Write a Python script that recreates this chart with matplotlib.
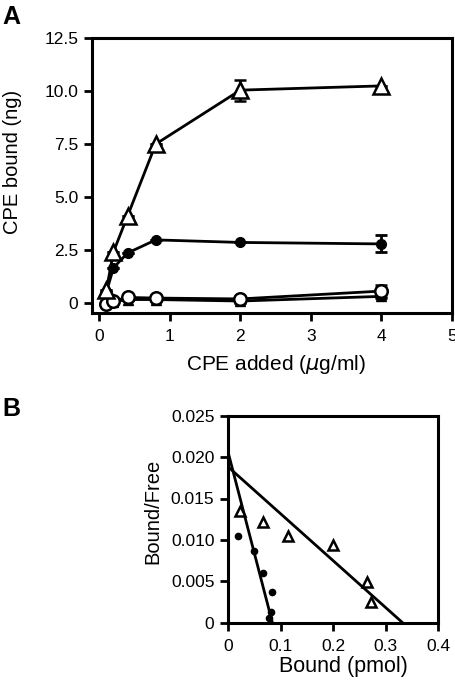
import numpy as np
import matplotlib
matplotlib.use('Agg')
import matplotlib.pyplot as plt

plt.rcParams['font.family'] = ['Liberation Sans', 'DejaVu Sans']

# Panel A: CPE binding curves
cpe_added = [0.1, 0.2, 0.4, 0.8, 2.0, 4.0]
open_tri = [0.6, 2.4, 4.1, 7.5, 10.05, 10.25]
open_tri_err = [0, 0, 0, 0, 0.5, 0]
filled_circ = [0.5, 1.65, 2.35, 2.97, 2.85, 2.78]
filled_circ_err = [0, 0, 0, 0, 0, 0.4]
open_circ = [-0.05, 0.08, 0.25, 0.22, 0.18, 0.55]
open_circ_err = [0, 0, 0, 0, 0, 0.3]
filled_tri = [0.0, 0.05, 0.15, 0.15, 0.08, 0.3]
filled_tri_err = [0, 0, 0, 0, 0.1, 0.1]

# Panel B: Scatchard plot
tri_bound = [0.022, 0.066, 0.113, 0.2, 0.264, 0.271]
tri_bf = [0.0135, 0.0122, 0.0105, 0.0094, 0.0049, 0.0025]
circ_bound = [0.018, 0.049, 0.067, 0.083, 0.0806, 0.078]
circ_bf = [0.0105, 0.0086, 0.006, 0.0037, 0.0013, 0.0006]
# fitted lines: (y-intercept, x-intercept)
tri_fit = (0.0188, 0.332)
circ_fit = (0.0205, 0.084)

fig = plt.figure(figsize=(4.56, 6.82), dpi=100)

# ---- Panel A ----
ax = fig.add_axes([92.3/456, 1-313.3/682, (451.8-92.3)/456, (313.3-38.3)/682])
lw = 2.0
kw = dict(color='black', lw=lw, capsize=4.5, elinewidth=lw, capthick=lw, clip_on=False)
ax.errorbar(cpe_added, filled_tri, yerr=filled_tri_err, marker='^', ms=7, mfc='black', mec='black', zorder=3, **kw)
ax.errorbar(cpe_added, open_circ, yerr=open_circ_err, marker='o', ms=9, mfc='white', mec='black', mew=1.8, zorder=4, **kw)
ax.errorbar(cpe_added, filled_circ, yerr=filled_circ_err, marker='o', ms=7, mfc='black', mec='black', zorder=5, **kw)
ax.errorbar(cpe_added, open_tri, yerr=open_tri_err, marker='^', ms=11, mfc='white', mec='black', mew=1.8, zorder=6, **kw)

ax.set_xlim(-0.1, 5)
ax.set_ylim(-0.5, 12.5)
ax.set_xticks([0, 1, 2, 3, 4, 5])
ax.set_xticklabels(['0', '1', '2', '3', '4', '5'])
ax.set_yticks([0, 2.5, 5.0, 7.5, 10.0, 12.5])
ax.set_yticklabels(['0', '2.5', '5.0', '7.5', '10.0', '12.5'])
ax.set_xlabel('CPE added ($\\mu$g/ml)', fontsize=15)
ax.set_ylabel('CPE bound (ng)', fontsize=14.5)
ax.xaxis.set_label_coords(0.51, -0.145)
ax.yaxis.set_label_coords(-0.195, 0.552)

# ---- Panel B ----
bx = fig.add_axes([228.3/456, 1-622.7/682, (438.3-228.3)/456, (622.7-415.7)/682])
bx.plot([0, tri_fit[1]], [tri_fit[0], 0], color='black', lw=2.0)
bx.plot([0, circ_fit[1]], [circ_fit[0], 0], color='black', lw=2.0)
bx.plot(tri_bound, tri_bf, ls='none', marker='^', ms=7.5, mfc='white', mec='black', mew=1.8)
bx.plot(circ_bound, circ_bf, ls='none', marker='o', ms=4.5, mfc='black', mec='black')

bx.set_xlim(0, 0.4)
bx.set_ylim(0, 0.025)
bx.set_xticks([0, 0.1, 0.2, 0.3, 0.4])
bx.set_xticklabels(['0', '0.1', '0.2', '0.3', '0.4'])
bx.set_yticks([0, 0.005, 0.010, 0.015, 0.020, 0.025])
bx.set_yticklabels(['0', '0.005', '0.010', '0.015', '0.020', '0.025'])
bx.set_xlabel('Bound (pmol)', fontsize=15.5)
bx.set_ylabel('Bound/Free', fontsize=14.5)
bx.xaxis.set_label_coords(0.546, -0.16)
bx.yaxis.set_label_coords(-0.316, 0.537)

for a in (ax, bx):
    for s in a.spines.values():
        s.set_linewidth(2.2)
    a.tick_params(direction='out', length=5.5, width=2, labelsize=12.5)
    a.tick_params(axis='x', pad=6)
    a.tick_params(axis='y', pad=4.5)

fig.text(0.005, 0.992, 'A', fontsize=18, fontweight='bold', va='top', ha='left')
fig.text(0.005, 0.418, 'B', fontsize=18, fontweight='bold', va='top', ha='left')

fig.savefig('out.png', dpi=100)
